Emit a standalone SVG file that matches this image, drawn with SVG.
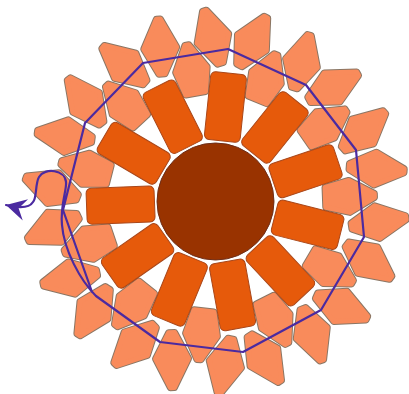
<svg xmlns="http://www.w3.org/2000/svg" xmlns:xlink="http://www.w3.org/1999/xlink" width="409" height="394" viewBox="0 0 409 394">
<style>
.edge{fill:#8a7664;stroke:#8a7664;stroke-width:7;stroke-linejoin:round}
.face{fill:#F98B5B;stroke:#F98B5B;stroke-width:5;stroke-linejoin:round}
.bar{fill:#E65A0B;stroke:#a9471a;stroke-width:1}
.core{fill:#993300;stroke:#6e2f1a;stroke-width:1}
.route{fill:none;stroke:#4B2AA0;stroke-width:2.2;stroke-linejoin:round;stroke-linecap:round}
</style>
<defs>
<polygon id="shpO" points="-27,-3 -1,-16.5 28,-2 28,2 -1,16.5 -27,3"/>
<polygon id="shpI" points="-24,-10 0,-16 25,-2 25,2 0,16 -24,10"/>
<g id="po"><use href="#shpO" class="edge"/><use href="#shpO" class="face"/></g>
<g id="pi"><use href="#shpI" class="edge"/><use href="#shpI" class="face"/></g>
<marker id="ah" markerUnits="userSpaceOnUse" markerWidth="24" markerHeight="24" viewBox="-22 -12 24 24" refX="0" refY="0" orient="auto">
<path d="M0,0 L-20,-11 L-13,0 L-20,11 Z" fill="#4B2AA0"/>
</marker>
</defs>
<g id="flower" transform="translate(215.5 201.5)">
<g id="outer-petals">
<use id="op0a" href="#po" transform="rotate(-91) translate(164 0) rotate(-16)"/>
<use id="op0b" href="#po" transform="rotate(-77) translate(164 0) rotate(16)"/>
<use id="op1a" href="#po" transform="rotate(-58.273) translate(164 0) rotate(-16)"/>
<use id="op1b" href="#po" transform="rotate(-44.273) translate(164 0) rotate(16)"/>
<use id="op2a" href="#po" transform="rotate(-25.545) translate(164 0) rotate(-16)"/>
<use id="op2b" href="#po" transform="rotate(-11.545) translate(164 0) rotate(16)"/>
<use id="op3a" href="#po" transform="rotate(7.182) translate(164 0) rotate(-16)"/>
<use id="op3b" href="#po" transform="rotate(21.182) translate(164 0) rotate(16)"/>
<use id="op4a" href="#po" transform="rotate(39.909) translate(164 0) rotate(-16)"/>
<use id="op4b" href="#po" transform="rotate(53.909) translate(164 0) rotate(16)"/>
<use id="op5a" href="#po" transform="rotate(72.636) translate(164 0) rotate(-16)"/>
<use id="op5b" href="#po" transform="rotate(86.636) translate(164 0) rotate(16)"/>
<use id="op6a" href="#po" transform="rotate(105.364) translate(164 0) rotate(-16)"/>
<use id="op6b" href="#po" transform="rotate(119.364) translate(164 0) rotate(16)"/>
<use id="op7a" href="#po" transform="rotate(138.091) translate(164 0) rotate(-16)"/>
<use id="op7b" href="#po" transform="rotate(152.091) translate(164 0) rotate(16)"/>
<use id="op8a" href="#po" transform="rotate(170.818) translate(164 0) rotate(-16)"/>
<use id="op8b" href="#po" transform="rotate(184.818) translate(164 0) rotate(16)"/>
<use id="op9a" href="#po" transform="rotate(203.545) translate(164 0) rotate(-16)"/>
<use id="op9b" href="#po" transform="rotate(217.545) translate(164 0) rotate(16)"/>
<use id="op10a" href="#po" transform="rotate(236.273) translate(164 0) rotate(-16)"/>
<use id="op10b" href="#po" transform="rotate(250.273) translate(164 0) rotate(16)"/>
</g>
<g id="inner-petals">
<use id="ip0" href="#pi" transform="rotate(-67.636) translate(134 0)"/>
<use id="ip1" href="#pi" transform="rotate(-34.909) translate(134 0)"/>
<use id="ip2" href="#pi" transform="rotate(-2.182) translate(134 0)"/>
<use id="ip3" href="#pi" transform="rotate(30.545) translate(134 0)"/>
<use id="ip4" href="#pi" transform="rotate(63.273) translate(134 0)"/>
<use id="ip5" href="#pi" transform="rotate(96) translate(134 0)"/>
<use id="ip6" href="#pi" transform="rotate(128.727) translate(134 0)"/>
<use id="ip7" href="#pi" transform="rotate(161.455) translate(134 0)"/>
<use id="ip8" href="#pi" transform="rotate(194.182) translate(134 0)"/>
<use id="ip9" href="#pi" transform="rotate(226.909) translate(134 0)"/>
<use id="ip10" href="#pi" transform="rotate(259.636) translate(134 0)"/>
</g>
<g id="bars">
<rect id="b0" class="bar" x="61" y="-18" width="68" height="36" rx="5" transform="rotate(-84)"/>
<rect id="b1" class="bar" x="61" y="-18" width="68" height="36" rx="5" transform="rotate(-51.273)"/>
<rect id="b2" class="bar" x="61" y="-18" width="68" height="36" rx="5" transform="rotate(-18.545)"/>
<rect id="b3" class="bar" x="61" y="-18" width="68" height="36" rx="5" transform="rotate(14.182)"/>
<rect id="b4" class="bar" x="61" y="-18" width="68" height="36" rx="5" transform="rotate(46.909)"/>
<rect id="b5" class="bar" x="61" y="-18" width="68" height="36" rx="5" transform="rotate(79.636)"/>
<rect id="b6" class="bar" x="61" y="-18" width="68" height="36" rx="5" transform="rotate(112.364)"/>
<rect id="b7" class="bar" x="61" y="-18" width="68" height="36" rx="5" transform="rotate(145.091)"/>
<rect id="b8" class="bar" x="61" y="-18" width="68" height="36" rx="5" transform="rotate(177.818)"/>
<rect id="b9" class="bar" x="61" y="-18" width="68" height="36" rx="5" transform="rotate(210.545)"/>
<rect id="b10" class="bar" x="61" y="-18" width="68" height="36" rx="5" transform="rotate(243.273)"/>
</g>
<g id="center"><circle class="core" cx="0" cy="0" r="58.5"/></g>
</g>
<g id="connectors">
<path class="route" marker-end="url(#ah)" d="M 92,292 L 63,210 L 85,123 L 143,63 L 228,49 L 306,85 L 356,150 L 364,237 L 321,310 L 243,352 L 160,342 L 96,296 C 80,280 64,250 62,225 C 60,205 67,190 66,182 C 65,170 45,167 39,177 C 35,184 37,198 33,202 C 30,207 22,209 6,205"/>
</g>
</svg>
